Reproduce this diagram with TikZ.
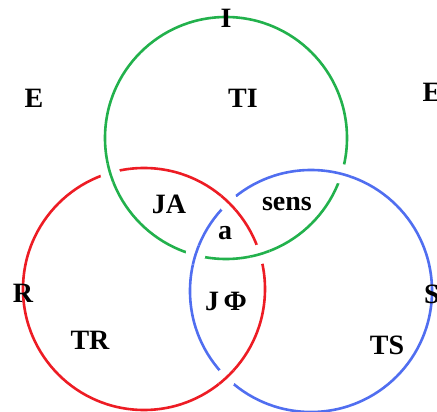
\documentclass[tikz,border=0pt]{standalone}
\usepackage{fontspec}
\setmainfont{Liberation Serif}
\usetikzlibrary{intersections}
\definecolor{gcol}{RGB}{34,177,76}
\definecolor{rcol}{RGB}{237,28,36}
\definecolor{bcol}{RGB}{80,110,240}
\begin{document}
\begin{tikzpicture}[x=1pt,y=-1pt,
  ring/.style={line width=2.6pt},
  lbl/.style={font=\fontsize{28}{30}\selectfont\bfseries, inner sep=0pt, anchor=base}]
\useasboundingbox (0,0) rectangle (437,412);
\coordinate (G) at (226,138);
\coordinate (R) at (144,289);
\coordinate (B) at (311,291);
\draw[ring,gcol,name path=g] (G) circle[radius=121pt];
\draw[ring,rcol,name path=r] (R) circle[radius=121pt];
\draw[ring,bcol,name path=b] (B) circle[radius=121pt];
\path[name intersections={of=g and r,name=gr}];
\path[name intersections={of=r and b,name=rb}];
\path[name intersections={of=b and g,name=bg}];
\foreach \p/\c/\o in {gr-1/gcol/G, gr-2/gcol/G, rb-1/rcol/R, rb-2/rcol/R, bg-1/bcol/B, bg-2/bcol/B} {
  \begin{scope}
    \clip (\p) circle[radius=10pt];
    \fill[white] (\p) circle[radius=10pt];
    \draw[ring,\c] (\o) circle[radius=121pt];
  \end{scope}
}
\node[lbl] (I) at (226,28) {I};
\node[lbl] (E1) at (34,107) {E};
\node[lbl] (E2) at (432,102) {E};
\node[lbl] (TI) at (243,108) {TI};
\node[lbl] (JA) at (169,213) {JA};
\node[lbl] (sens) at (287,210) {sens};
\node[lbl] (a) at (225,239) {a};
\node[lbl] (JF) at (226,310) {J\,Φ};
\node[lbl] (Rl) at (23,302) {R};
\node[lbl] (Sl) at (432,303) {S};
\node[lbl] (TR) at (90,349) {TR};
\node[lbl] (TS) at (387,354) {TS};
\end{tikzpicture}
\end{document}
